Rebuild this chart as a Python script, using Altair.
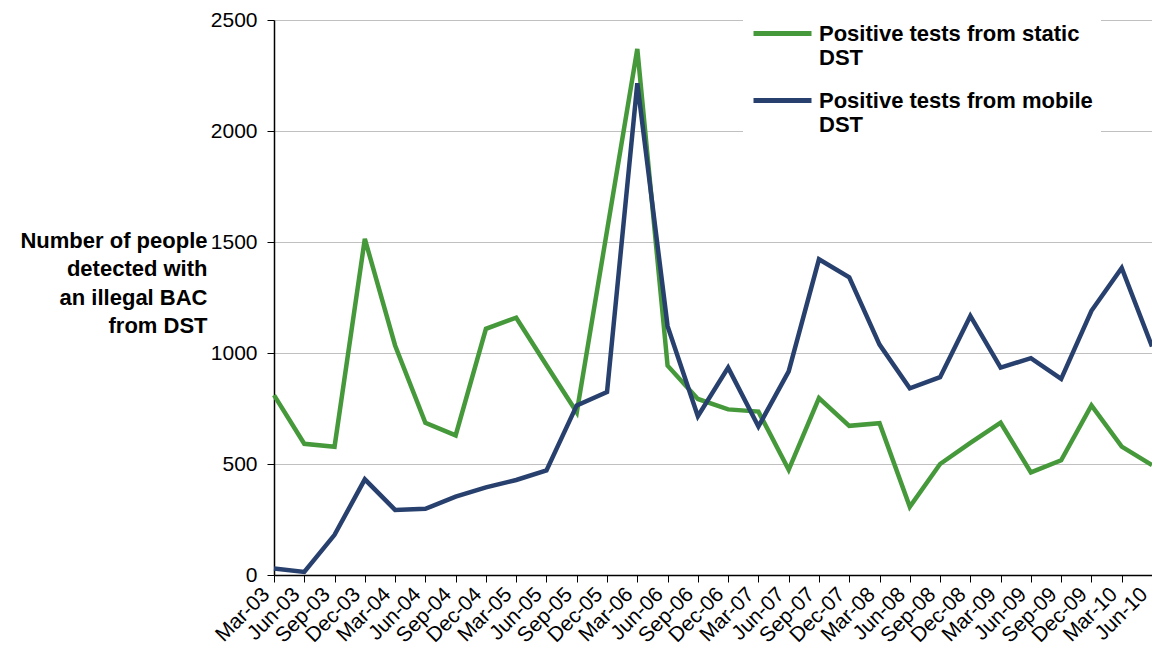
import altair as alt
import pandas as pd

quarters = ["Mar-03", "Jun-03", "Sep-03", "Dec-03", "Mar-04", "Jun-04", "Sep-04", "Dec-04",
            "Mar-05", "Jun-05", "Sep-05", "Dec-05", "Mar-06", "Jun-06", "Sep-06", "Dec-06",
            "Mar-07", "Jun-07", "Sep-07", "Dec-07", "Mar-08", "Jun-08", "Sep-08", "Dec-08",
            "Mar-09", "Jun-09", "Sep-09", "Dec-09", "Mar-10", "Jun-10"]
static_dst = [810, 591, 578, 1514, 1034, 686, 629, 1109, 1159, 945, 733, 1551, 2370, 943, 793,
              746, 736, 474, 797, 672, 684, 307, 500, 595, 686, 462, 517, 764, 578, 495]
mobile_dst = [29, 14, 181, 431, 293, 298, 353, 395, 428, 471, 764, 824, 2215, 1121, 715,
              934, 669, 917, 1422, 1341, 1038, 841, 891, 1167, 934, 977, 883, 1190, 1383, 1029]
series_names = ["Positive tests from static DST", "Positive tests from mobile DST"]
series_colors = ["#46993A", "#28406E"]
y_ticks = [0, 500, 1000, 1500, 2000, 2500]
y_title = ["Number of people", "detected with", "an illegal BAC", "from DST"]

rows = []
for i, q in enumerate(quarters):
    rows.append({"quarter": q, "series": series_names[0], "value": static_dst[i], "ord": 0})
for i, q in enumerate(quarters):
    rows.append({"quarter": q, "series": series_names[1], "value": mobile_dst[i], "ord": 1})
df = pd.DataFrame(rows)

FONT = "Liberation Sans"

chart = alt.Chart(df).mark_line(strokeWidth=4.5).encode(
    x=alt.X("quarter:O", sort=quarters,
            scale=alt.Scale(type="point", padding=0),
            axis=alt.Axis(title=None, labelAngle=315, labelAlign="right", labelBaseline="middle",
                          labelFontSize=21, labelFont=FONT, labelColor="black",
                          tickSize=7, tickColor="black", domainColor="black", domainWidth=1.5,
                          labelPadding=9, labelOffset=-8, grid=False)),
    y=alt.Y("value:Q", scale=alt.Scale(domain=[0, 2500], nice=False),
            axis=alt.Axis(values=y_ticks, format="d", title=y_title, titleAngle=0,
                          titleAlign="right",
                          titleBaseline="top", titleX=-67, titleY=210, titleFontSize=22,
                          titleFontWeight="bold", titleFont=FONT, titleColor="black",
                          titleLineHeight=28.5,
                          labelFontSize=21, labelFont=FONT, labelColor="black", labelPadding=10,
                          tickSize=7, tickColor="black", domainColor="black", domainWidth=1.5,
                          gridColor="#C0C0C0", gridWidth=1)),
    color=alt.Color("series:N", scale=alt.Scale(domain=series_names, range=series_colors),
                    legend=alt.Legend(orient="none", legendX=469, legendY=-26, title=None,
                                      fillColor="white", padding=8,
                                      symbolType="stroke", symbolSize=3364, symbolStrokeWidth=5,
                                      symbolOpacity=1,
                                      labelFontSize=22, labelFontWeight="bold", labelFont=FONT,
                                      labelColor="black", labelOffset=5, labelLimit=400,
                                      labelExpr="[slice(datum.label, 0, -4), 'DST']",
                                      rowPadding=-8)),
    order=alt.Order("ord:Q"),
).properties(
    width=878, height=555,
    padding={"left": 266, "top": 12, "right": 0, "bottom": 72},
    autosize=alt.AutoSizeParams(type="none"),
).configure_view(stroke="#808080", strokeWidth=1.5).configure(background="white")

chart.save("out.html", embed_options={"renderer": "svg", "actions": False})
